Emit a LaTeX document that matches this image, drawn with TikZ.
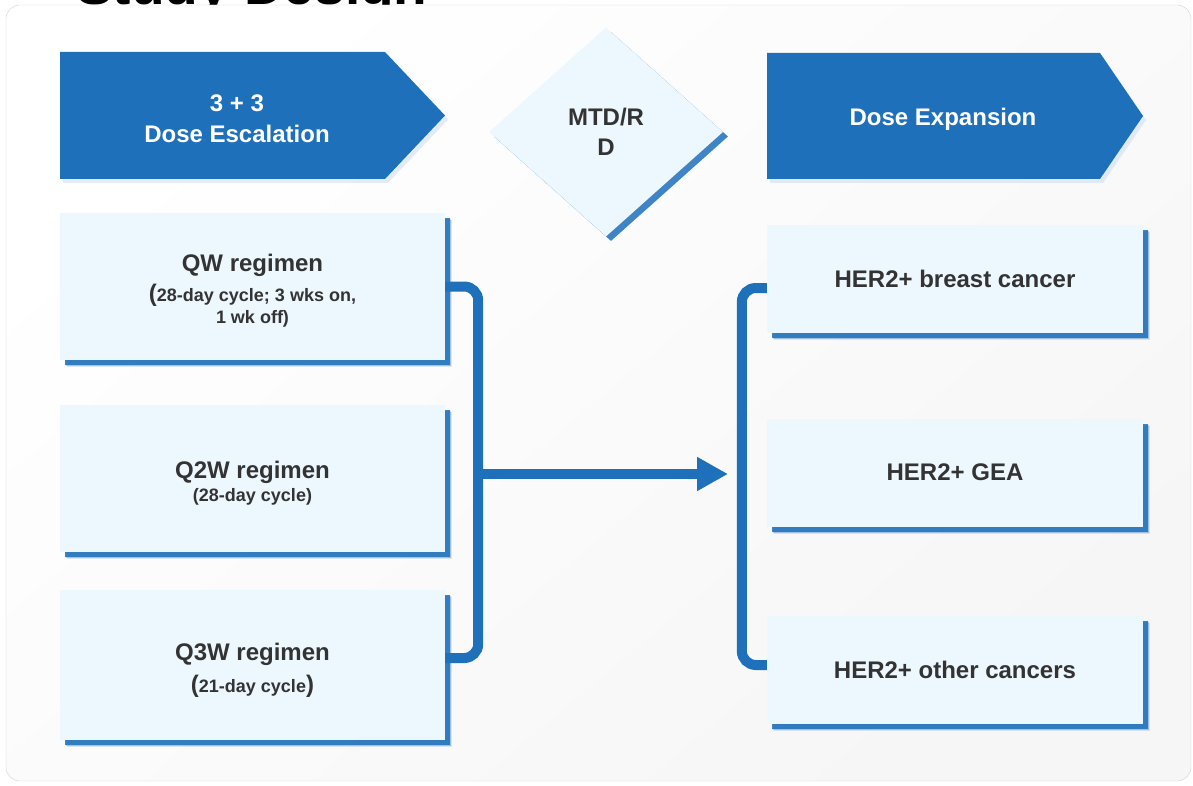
\documentclass[tikz,border=0pt]{standalone}
\usepackage{fontspec}
\setmainfont{Liberation Sans}
\usetikzlibrary{arrows.meta,shapes.geometric,shadows}
\definecolor{planblue}{HTML}{1F70BB}
\definecolor{paleblue}{HTML}{EDF7FE}
\definecolor{inkgray}{HTML}{333333}
\newcommand{\subline}{\fontsize{18}{22}\selectfont}
\newcommand{\bigparen}[1]{{\fontsize{24}{22}\selectfont#1}}
\tikzset{
 bluesoft/.style={drop shadow={shadow xshift=7pt,shadow yshift=-7pt,fill=planblue,opacity=.15},
  drop shadow={shadow xshift=6pt,shadow yshift=-6pt,fill=planblue,opacity=.3}},
 bluehard/.style={drop shadow={shadow xshift=4.5pt,shadow yshift=-5pt,fill=planblue,opacity=.85}},
 phase/.style={fill=planblue,drop shadow={shadow xshift=3pt,shadow yshift=-4pt,fill=planblue!30,opacity=.4}},
 phasetext/.style={text=white,font=\fontsize{24}{31}\selectfont\bfseries,align=center},
 armbox/.style={fill=paleblue,bluesoft,bluehard,minimum width=385pt,inner sep=0,text=inkgray,align=center,font=\fontsize{24}{22}\selectfont\bfseries},
 cohort/.style={armbox,minimum width=376pt,minimum height=108pt},
 decision/.style={diamond,fill=paleblue,drop shadow={shadow xshift=5pt,shadow yshift=-4.5pt,fill=planblue,opacity=.85},minimum width=234pt,minimum height=209pt,inner sep=0,text=inkgray,align=center,font=\fontsize{24}{30}\selectfont\bfseries},
 bracket/.style={draw=planblue,line width=10pt,rounded corners=14pt},
 flow/.style={draw=planblue,line width=10pt,-{Triangle[length=31pt,width=32pt]}}
}

\begin{document}
\begin{tikzpicture}[x=1pt,y=-1pt]
\clip (0,0) rectangle (1193,786);
\node[anchor=base west,inner sep=0,font=\fontsize{55}{60}\selectfont\bfseries] (title) at (76,5) {Study Design};
\path[draw=gray!35,rounded corners=14pt,top color=white,middle color=white,bottom color=gray!7,shading angle=40] (6,5) rectangle (1191,781);
% phase headers
\fill[phase] (60,52) -- (385,52) -- (445,115.5) -- (385,179) -- (60,179) -- cycle;
\node[phasetext] (escal) at (237,119) {3 + 3\\Dose Escalation};
\fill[phase] (767,53) -- (1100,53) -- (1143,116) -- (1100,179) -- (767,179) -- cycle;
\node[phasetext] (expan) at (943,119) {Dose Expansion};
\node[decision] (mtd) at (606,132) {MTD/R\\D};
% regimens
\node[armbox,minimum height=147pt] (qw) at (252.5,286.5) {\mbox{}\\[4pt]QW regimen\\[6pt]\subline\bigparen{(}28-day cycle; 3 wks on,\\\subline 1 wk off)};
\node[armbox,minimum height=147pt] (q2w) at (252.5,478.5) {\mbox{}\\[4pt]Q2W regimen\\[1pt]\subline (28-day cycle)};
\node[armbox,minimum height=150pt] (q3w) at (252.5,665) {\mbox{}\\[6pt]Q3W regimen\\[8pt]\subline\bigparen{(}21-day cycle\bigparen{)}};
% cohorts
\node[cohort] (her1) at (955,279) {HER2+ breast cancer};
\node[cohort] (her2) at (955,472.5) {HER2+ GEA};
\node[cohort] (her3) at (955,670) {HER2+ other cancers};
% connectors
\coordinate (split) at (478,474);
\coordinate (tip) at (728,474);
\draw[bracket] (qw.east) -- ++(33,0) |- ([yshift=7pt]q3w.east);
\draw[flow] (split) -- (tip);
\draw[bracket] ([yshift=-9pt]her1.west) -- ++(-25,0) |- ([yshift=5pt]her3.west);
\end{tikzpicture}
\end{document}
